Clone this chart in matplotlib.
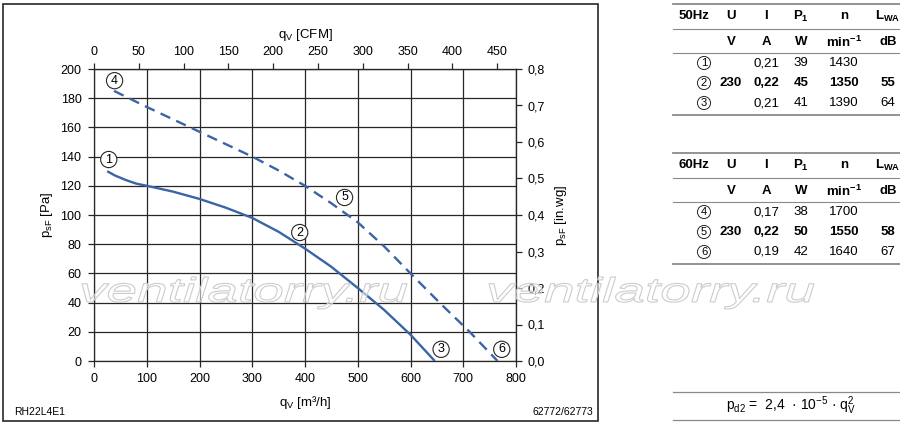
import matplotlib.pyplot as plt
from matplotlib.patches import Rectangle, PathPatch
from matplotlib.textpath import TextPath
from matplotlib.font_manager import FontProperties
from matplotlib.lines import Line2D
from matplotlib.transforms import Affine2D
from matplotlib.ticker import MultipleLocator, FuncFormatter

plt.rcParams['font.family'] = ['Liberation Sans', 'DejaVu Sans']
plt.rcParams['font.size'] = 9
plt.rcParams['mathtext.fontset'] = 'custom'
plt.rcParams['mathtext.rm'] = 'Liberation Sans'
plt.rcParams['mathtext.bf'] = 'Liberation Sans:bold'

# fan curves: 50 Hz (1-3) solid, 60 Hz (4-6) dashed
q_50 = [25, 40, 60, 80, 100, 150, 200, 250, 300, 350, 400, 450, 500, 550, 600, 646]
p_50 = [130, 127, 124, 121.5, 120, 116, 111, 105, 98, 88.5, 77, 64.5, 50, 35, 18, 0]
q_60 = [38, 100, 200, 300, 350, 400, 450, 500, 550, 600, 655, 712, 765]
p_60 = [185, 174, 157, 140, 130.5, 120, 108, 95, 78.5, 60, 40, 20, 0]

# operating point markers
pt_labels = ['1', '2', '3', '4', '5', '6']
pt_q = [28, 390, 658, 39, 475, 773]
pt_p = [138, 88, 8, 192, 112, 8]

# tables
head_50 = ['50Hz', 'U', 'I', r'$\mathbf{P}_\mathbf{1}$', 'n', r'$\mathbf{L}_\mathbf{WA}$']
head_60 = ['60Hz', 'U', 'I', r'$\mathbf{P}_\mathbf{1}$', 'n', r'$\mathbf{L}_\mathbf{WA}$']
units = ['', 'V', 'A', 'W', r'$\mathbf{min}^\mathbf{-1}$', 'dB']
rows_50 = [['1', '', '0,21', '39', '1430', ''],
           ['2', '230', '0,22', '45', '1350', '55'],
           ['3', '', '0,21', '41', '1390', '64']]
rows_60 = [['4', '', '0,17', '38', '1700', ''],
           ['5', '230', '0,22', '50', '1550', '58'],
           ['6', '', '0,19', '42', '1640', '67']]

blue = '#3a64a6'
dark = '#2b2622'
W, H = 900, 426


def fx(x):
    return x / W


def fy(y):
    return 1 - y / H


fig = plt.figure(figsize=(9, 4.26), dpi=100)

# outer frame of the diagram
fig.add_artist(Rectangle((fx(3), fy(421)), fx(595), 417 / H, transform=fig.transFigure,
                         fill=False, ec=dark, lw=1.2))

ax = fig.add_axes([fx(94), fy(361), fx(422), 292 / H])
ax.plot(q_50, p_50, color=blue, lw=1.7, solid_capstyle='butt', zorder=3)
ax.plot(q_60, p_60, color=blue, lw=1.7, dashes=(4.5, 2.8), zorder=3)
ax.set_xlim(0, 800)
ax.set_ylim(0, 200)
ax.xaxis.set_major_locator(MultipleLocator(100))
ax.yaxis.set_major_locator(MultipleLocator(20))
ax.set_axisbelow(True)
ax.grid(True, color=dark, lw=0.9)
for s in ax.spines.values():
    s.set_color(dark)
    s.set_linewidth(0.9)
ax.tick_params(direction='out', length=4, width=0.9, color=dark, labelsize=9)
ax.tick_params(axis='x', pad=5)
ax.tick_params(axis='y', pad=5)
ax.set_xlabel(r'q$_\mathrm{V}$ [m³/h]', fontsize=9.5, labelpad=6)
ax.set_ylabel(r'p$_\mathrm{sF}$ [Pa]', fontsize=9.5, labelpad=4)

for lab, q, p in zip(pt_labels, pt_q, pt_p):
    ax.text(q, p, lab, ha='center', va='center', fontsize=9, zorder=4, clip_on=False,
            bbox=dict(boxstyle='circle,pad=0.17', fc='white', ec=dark, lw=0.8))

top = ax.secondary_xaxis('top', functions=(lambda q: q / 1.699, lambda c: c * 1.699))
top.xaxis.set_major_locator(MultipleLocator(50))
top.tick_params(direction='out', length=4, width=0.9, color=dark, labelsize=9, pad=4)
top.spines['top'].set_color(dark)
top.set_xlabel(r'q$_\mathrm{V}$ [CFM]', fontsize=9.5, labelpad=6)

right = ax.secondary_yaxis('right', functions=(lambda p: p / 250, lambda w: w * 250))
right.yaxis.set_major_locator(MultipleLocator(0.1))
right.yaxis.set_major_formatter(FuncFormatter(lambda v, pos: f'{v:.1f}'.replace('.', ',')))
right.tick_params(direction='out', length=4, width=0.9, color=dark, labelsize=9, pad=4)
right.spines['right'].set_color(dark)
right.set_ylabel(r'p$_\mathrm{sF}$ [in.wg]', fontsize=9.5, labelpad=6)

fig.text(fx(14), fy(412), 'RH22L4E1', fontsize=7.5, ha='left', va='center')
fig.text(fx(593), fy(412), '62772/62773', fontsize=7.5, ha='right', va='center')


# watermark
def watermark(x0, y_bottom, w, h):
    tp = TextPath((0, 0), 'ventilatorry.ru', size=1,
                  prop=FontProperties(family='Liberation Sans', style='italic'))
    bb = tp.get_extents()
    tr = (Affine2D().translate(-bb.x0, -bb.y0)
          .scale(w / bb.width / W, h / bb.height / H)
          .translate(fx(x0), fy(y_bottom)) + fig.transFigure)
    fig.add_artist(PathPatch(tp, transform=tr, fc=(1, 1, 1, 0.55), ec='#cccccc', lw=0.8, zorder=5))


watermark(82, 309, 325, 32)
watermark(489, 309, 325, 32)

# data tables
col_x = [694, 731, 766, 801, 844, 888]


def draw_table(head, rows, y0):
    line = dict(color='#8a8a8a', transform=fig.transFigure)
    fig.add_artist(Line2D([fx(673), fx(900)], [fy(y0), fy(y0)], lw=1.3, **line))
    fig.add_artist(Line2D([fx(673), fx(900)], [fy(y0 + 25), fy(y0 + 25)], lw=0.8, **line))
    fig.add_artist(Line2D([fx(673), fx(900)], [fy(y0 + 49), fy(y0 + 49)], lw=0.8, **line))
    fig.add_artist(Line2D([fx(673), fx(900)], [fy(y0 + 111), fy(y0 + 111)], lw=1.3, **line))
    for x, t in zip(col_x, head):
        fig.text(fx(x), fy(y0 + 12), t, ha='center', va='center', fontsize=9.5, fontweight='bold')
    for x, t in zip(col_x, units):
        fig.text(fx(x), fy(y0 + 38), t, ha='center', va='center', fontsize=9.5, fontweight='bold')
    for i, row in enumerate(rows):
        y = y0 + 59 + 20 * i
        wt = 'bold' if i == 1 else 'normal'
        fig.text(fx(col_x[0] + 10), fy(y), row[0], ha='center', va='center', fontsize=8,
                 bbox=dict(boxstyle='circle,pad=0.14', fc='white', ec=dark, lw=0.7))
        for x, t in zip(col_x[1:], row[1:]):
            fig.text(fx(x), fy(y), t, ha='center', va='center', fontsize=9.5, fontweight=wt)


draw_table(head_50, rows_50, 4)
draw_table(head_60, rows_60, 153)

# dynamic pressure formula
for y in [392, 420]:
    fig.add_artist(Line2D([fx(673), fx(900)], [fy(y), fy(y)], lw=0.9, color='#8a8a8a',
                          transform=fig.transFigure))
fig.text(fx(791), fy(406), r'p$_\mathrm{d2}$ =  2,4  · 10$^\mathrm{-5}$ · q$_\mathrm{V}^\mathrm{2}$',
         ha='center', va='center', fontsize=10)

fig.savefig('out.png', dpi=100)
